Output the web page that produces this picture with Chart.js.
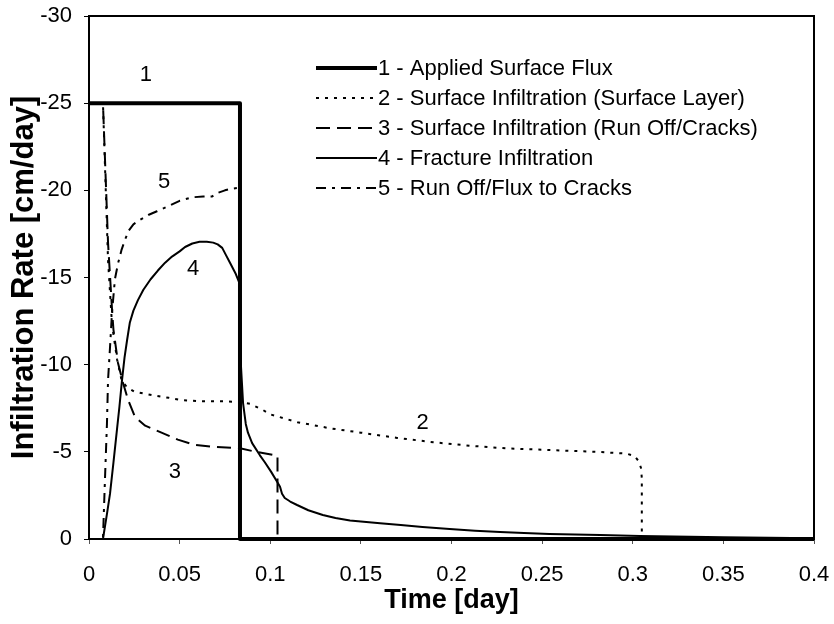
<!DOCTYPE html>
<html>
<head>
<meta charset="utf-8">
<script src="https://cdn.jsdelivr.net/npm/chart.js@4"></script>
<style>
  html, body { margin: 0; padding: 0; background: #fff; }
  #wrap { width: 834px; height: 624px; }
</style>
</head>
<body>
<div id="wrap"><canvas id="c" width="834" height="624"></canvas></div>
<script>
// ---- Data ----
const seriesNames = [
  '1 - Applied Surface Flux',
  '2 - Surface Infiltration (Surface Layer)',
  '3 - Surface Infiltration (Run Off/Cracks)',
  '4 - Fracture Infiltration',
  '5 - Run Off/Flux to Cracks'
];

const t1 = [0, 0.0833, 0.0833, 0.4];
const v1 = [-25, -25, 0, 0];

const t2 = [0, 0.0077, 0.0105, 0.0127, 0.0155, 0.018, 0.021, 0.025, 0.035, 0.044, 0.051, 0.062, 0.075, 0.0833, 0.089, 0.096, 0.100, 0.115, 0.133, 0.150, 0.170, 0.190, 0.210, 0.230, 0.255, 0.280, 0.2965, 0.301, 0.303, 0.3045, 0.305, 0.305, 0.4];
const v2 = [-25, -25, -16, -12.3, -10.3, -9.1, -8.7, -8.45, -8.25, -8.1, -7.97, -7.9, -7.9, -7.85, -7.75, -7.4, -7.15, -6.7, -6.35, -6.1, -5.8, -5.55, -5.35, -5.2, -5.1, -5.0, -4.9, -4.75, -4.5, -4.1, -3.5, 0, 0];

const t3 = [0, 0.0077, 0.0105, 0.0128, 0.0135, 0.016, 0.0188, 0.0215, 0.0254, 0.031, 0.040, 0.049, 0.058, 0.068, 0.0833, 0.090, 0.104, 0.104, 0.4];
const v3 = [-25, -25, -17, -13, -12, -10.1, -8.95, -8.0, -7.0, -6.5, -6.1, -5.7, -5.4, -5.3, -5.2, -5.05, -4.78, 0, 0];

const t4 = [0, 0.0077, 0.0100, 0.0116, 0.0135, 0.0154, 0.0168, 0.0182, 0.0196, 0.021, 0.0225, 0.0245, 0.027, 0.030, 0.034, 0.038, 0.042, 0.0458, 0.050, 0.053, 0.057, 0.061, 0.065, 0.0685, 0.071, 0.0735, 0.0755, 0.078, 0.081, 0.0833, 0.0838, 0.085, 0.0865, 0.0877, 0.090, 0.0943, 0.097, 0.1005, 0.1037, 0.1054, 0.1065, 0.108, 0.111, 0.1148, 0.121, 0.129, 0.136, 0.144, 0.153, 0.1606, 0.172, 0.184, 0.199, 0.213, 0.2268, 0.240, 0.254, 0.268, 0.282, 0.304, 0.350, 0.4];
const v4 = [0, 0, -1.5, -2.6, -4.4, -6.25, -7.6, -9.1, -10.4, -11.4, -12.4, -13.1, -13.7, -14.3, -14.9, -15.4, -15.85, -16.2, -16.5, -16.75, -16.95, -17.05, -17.05, -17.0, -16.9, -16.7, -16.3, -15.8, -15.2, -14.6, -10, -7.8, -6.6, -6.1, -5.5, -4.8, -4.4, -3.85, -3.3, -3.0, -2.6, -2.35, -2.15, -1.95, -1.65, -1.38, -1.2, -1.06, -0.97, -0.9, -0.8, -0.69, -0.58, -0.48, -0.40, -0.34, -0.29, -0.26, -0.23, -0.17, -0.1, -0.05];

const t5 = [0, 0.0077, 0.0088, 0.0099, 0.0105, 0.0116, 0.0127, 0.0143, 0.016, 0.018, 0.020, 0.022, 0.0245, 0.028, 0.033, 0.0375, 0.044, 0.050, 0.057, 0.063, 0.068, 0.071, 0.075, 0.079, 0.0833, 0.0833, 0.4];
const v5 = [0, 0, -3.4, -6.6, -9.1, -11.0, -13.0, -14.9, -15.8, -16.6, -17.2, -17.7, -18.05, -18.3, -18.6, -18.8, -19.1, -19.4, -19.6, -19.65, -19.65, -19.85, -20.0, -20.1, -20.15, 0, 0];

const xTickLabels = ['0', '0.05', '0.1', '0.15', '0.2', '0.25', '0.3', '0.35', '0.4'];
const yTickLabels = ['-30', '-25', '-20', '-15', '-10', '-5', '0'];

// curve number labels (data coordinates)
const noteTexts = ['1', '2', '3', '4', '5'];
const noteT = [0.0314, 0.184, 0.0474, 0.0574, 0.0414];
const noteV = [-26.6, -6.65, -3.85, -15.5, -20.5];

// ---- Build chart ----
const FONT = '"Liberation Sans", Arial, Helvetica, sans-serif';
Chart.defaults.font.family = FONT;
Chart.defaults.color = '#000';

function pts(t, v) { return t.map((x, i) => ({ x: x, y: v[i] })); }

const styles = [
  { w: 4, dash: [] },
  { w: 2, dash: [3, 6] },
  { w: 2, dash: [14, 7] },
  { w: 2, dash: [] },
  { w: 2, dash: [10, 6, 3, 6] }
];
const allT = [t1, t2, t3, t4, t5];
const allV = [v1, v2, v3, v4, v5];

const datasets = seriesNames.map((name, i) => ({
  label: name,
  data: pts(allT[i], allV[i]),
  borderColor: '#000',
  backgroundColor: '#000',
  borderWidth: styles[i].w,
  borderDash: styles[i].dash,
  borderJoinStyle: 'round',
  pointRadius: 0,
  tension: 0,
  fill: false,
  showLine: true,
  clip: 4
}));

const boxPlugin = {
  id: 'boxPlugin',
  afterDraw(chart) {
    const { ctx, chartArea: a, scales } = chart;
    ctx.save();
    ctx.strokeStyle = '#000';
    ctx.lineWidth = 2;
    ctx.setLineDash([]);
    ctx.strokeRect(a.left, a.top, a.right - a.left, a.bottom - a.top);

    ctx.font = '22px ' + FONT;
    ctx.fillStyle = '#000';
    ctx.textAlign = 'center';
    ctx.textBaseline = 'middle';
    noteTexts.forEach((txt, i) => {
      ctx.fillText(txt, scales.x.getPixelForValue(noteT[i]), scales.y.getPixelForValue(noteV[i]));
    });

    const lx0 = 316, lx1 = 377, tx = 378, y0 = 68, dy = 30;
    datasets.forEach((ds, i) => {
      const y = y0 + i * dy;
      ctx.beginPath();
      ctx.lineWidth = ds.borderWidth;
      ctx.setLineDash(ds.borderDash);
      ctx.moveTo(lx0, y);
      ctx.lineTo(lx1, y);
      ctx.stroke();
      ctx.setLineDash([]);
      ctx.textAlign = 'left';
      ctx.textBaseline = 'middle';
      ctx.fillText(ds.label, tx, y + 1);
    });
    ctx.restore();
  }
};

function zeroPad(s) { s.paddingLeft = 0; s.paddingRight = 0; s.paddingTop = 0; s.paddingBottom = 0; }

new Chart(document.getElementById('c'), {
  type: 'scatter',
  data: { datasets: datasets },
  options: {
    responsive: false,
    animation: false,
    events: [],
    layout: { padding: { left: 0, right: 20, top: 16, bottom: 0 } },
    plugins: { legend: { display: false }, tooltip: { enabled: false } },
    scales: {
      x: {
        type: 'linear',
        min: 0, max: 0.4,
        afterFit(s) { s.height = 85; zeroPad(s); },
        afterBuildTicks(s) { s.ticks = xTickLabels.map(l => ({ value: parseFloat(l) })); },
        ticks: {
          font: { size: 22 },
          padding: 18,
          maxRotation: 0,
          autoSkip: false,
          callback: (v, i) => xTickLabels[i]
        },
        grid: { display: true, drawOnChartArea: false, drawTicks: true, tickLength: 5, color: '#555', lineWidth: 1 },
        border: { display: false },
        title: { display: true, text: 'Time [day]', font: { size: 27, weight: 'bold' }, padding: { top: 0, bottom: 7 } }
      },
      y: {
        type: 'linear',
        min: -30, max: 0,
        reverse: true,
        afterFit(s) { s.width = 89; zeroPad(s); },
        afterBuildTicks(s) { s.ticks = yTickLabels.map(l => ({ value: parseFloat(l) })); },
        ticks: {
          font: { size: 22 },
          padding: 12,
          autoSkip: false,
          callback: (v, i) => yTickLabels[i]
        },
        grid: { display: true, drawOnChartArea: false, drawTicks: true, tickLength: 5, color: '#000', lineWidth: 1 },
        border: { display: false },
        title: { display: true, text: 'Infiltration Rate [cm/day]', font: { size: 31, weight: 'bold' }, padding: { top: 6, bottom: 0 } }
      }
    }
  },
  plugins: [boxPlugin]
});
</script>
</body>
</html>
